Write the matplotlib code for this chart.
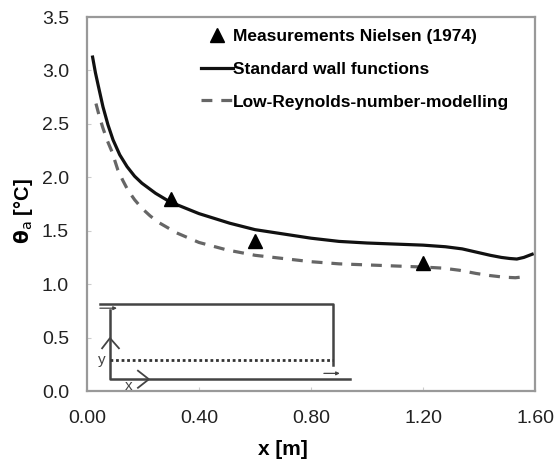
import matplotlib
matplotlib.use('Agg')
import matplotlib.pyplot as plt

x_ticks = [0.0, 0.4, 0.8, 1.2, 1.6]
x_labels = ['0.00', '0.40', '0.80', '1.20', '1.60']
y_ticks = [0.0, 0.5, 1.0, 1.5, 2.0, 2.5, 3.0, 3.5]

meas_x = [0.30, 0.60, 1.20]
meas_y = [1.80, 1.40, 1.20]

std_x = [0.02, 0.03, 0.04, 0.057, 0.075, 0.093, 0.117, 0.143, 0.17, 0.196, 0.245, 0.296, 0.40, 0.51, 0.60, 0.70, 0.80, 0.90, 1.00, 1.10, 1.20, 1.28, 1.34, 1.39, 1.44, 1.48, 1.51, 1.535, 1.56, 1.59]
std_y = [3.125, 2.98, 2.86, 2.66, 2.49, 2.35, 2.21, 2.10, 2.01, 1.945, 1.85, 1.77, 1.66, 1.57, 1.51, 1.47, 1.43, 1.40, 1.385, 1.375, 1.365, 1.35, 1.33, 1.30, 1.27, 1.25, 1.24, 1.235, 1.25, 1.28]

low_x = [0.032, 0.044, 0.057, 0.073, 0.089, 0.11, 0.128, 0.146, 0.17, 0.196, 0.225, 0.254, 0.32, 0.40, 0.50, 0.60, 0.70, 0.80, 0.90, 1.00, 1.10, 1.20, 1.27, 1.33, 1.39, 1.44, 1.49, 1.53, 1.565]
low_y = [2.69, 2.57, 2.46, 2.34, 2.24, 2.07, 1.97, 1.88, 1.79, 1.71, 1.64, 1.58, 1.48, 1.39, 1.32, 1.27, 1.24, 1.21, 1.19, 1.18, 1.17, 1.16, 1.15, 1.13, 1.10, 1.08, 1.065, 1.06, 1.07]

# room sketch at the bottom left
room_x = [0.046, 0.879, 0.879]
room_y = [0.814, 0.814, 0.245]
floor_x = [0.082, 0.082, 0.94]
floor_y = [0.76, 0.11, 0.11]
dots_x = [0.082, 0.879]
dots_y = [0.29, 0.29]
y_arrow_x = [0.054, 0.082, 0.114]
y_arrow_y = [0.40, 0.495, 0.40]
x_arrow_x = [0.182, 0.221, 0.182]
x_arrow_y = [0.19, 0.11, 0.03]
inlet_x = [0.046, 0.107]
inlet_y = [0.775, 0.775]
outlet_x = [0.846, 0.903]
outlet_y = [0.165, 0.165]

plt.rcParams['font.family'] = ['Liberation Sans', 'DejaVu Sans']

fig = plt.figure(figsize=(5.6, 4.61), dpi=100)
ax = fig.add_axes([87 / 560, 1 - 391 / 461, 448 / 560, 374 / 461])

ax.plot(std_x, std_y, color='#111111', lw=2.3, label='Standard wall functions')
ax.plot(low_x, low_y, color='#666666', lw=2.3, dashes=(3.4, 2.8), label='Low-Reynolds-number-modelling')
ax.plot(meas_x, meas_y, '^', color='black', ms=10, label='Measurements Nielsen (1974)')

ax.plot(room_x, room_y, color='#444444', lw=1.8)
ax.plot(floor_x, floor_y, color='#444444', lw=1.8)
ax.plot(dots_x, dots_y, color='#333333', lw=2.0, dashes=(1, 1))
ax.plot(y_arrow_x, y_arrow_y, color='#444444', lw=1.3)
ax.plot(x_arrow_x, x_arrow_y, color='#444444', lw=1.3)
ax.annotate('', xy=(inlet_x[1], inlet_y[1]), xytext=(inlet_x[0], inlet_y[0]),
            arrowprops=dict(arrowstyle='-|>', color='#444444', lw=0.9, mutation_scale=5, shrinkA=0, shrinkB=0))
ax.annotate('', xy=(outlet_x[1], outlet_y[1]), xytext=(outlet_x[0], outlet_y[0]),
            arrowprops=dict(arrowstyle='-|>', color='#444444', lw=0.9, mutation_scale=5, shrinkA=0, shrinkB=0))
ax.text(0.052, 0.29, 'y', fontsize=11, color='#444444', ha='center', va='center')
ax.text(0.147, 0.05, 'x', fontsize=11, color='#444444', ha='center', va='center')

ax.set_xlim(0, 1.6)
ax.set_ylim(0, 3.5)
ax.set_xticks(x_ticks)
ax.set_xticklabels(x_labels)
ax.set_yticks(y_ticks)
ax.set_yticklabels(['%.1f' % v for v in y_ticks])
ax.tick_params(labelsize=14, length=3, color='#cccccc', direction='in', labelcolor='#222222')
ax.tick_params(axis='x', pad=14)
ax.tick_params(axis='y', pad=13)
ax.set_xlabel('x [m]', fontsize=15, fontweight='bold')
ax.set_ylabel(r'$\mathbf{\theta}_{\mathrm{a}}$ [°C]', fontsize=14.5, fontweight='bold')
ax.xaxis.set_label_coords(0.4375, -0.132)
ax.yaxis.set_label_coords(-0.116, 0.481)
for s in ax.spines.values():
    s.set_color('#999999')
    s.set_linewidth(1.6)

handles, labels = ax.get_legend_handles_labels()
order = [2, 0, 1]
ax.legend([handles[i] for i in order], [labels[i] for i in order], frameon=False,
          loc='upper left', bbox_to_anchor=(0.254, 0.967), prop={'size': 12.5, 'weight': 'bold'},
          handlelength=1.85, handletextpad=0.0, labelspacing=1.0, borderaxespad=0, borderpad=0)

fig.savefig('out.png', dpi=100)
